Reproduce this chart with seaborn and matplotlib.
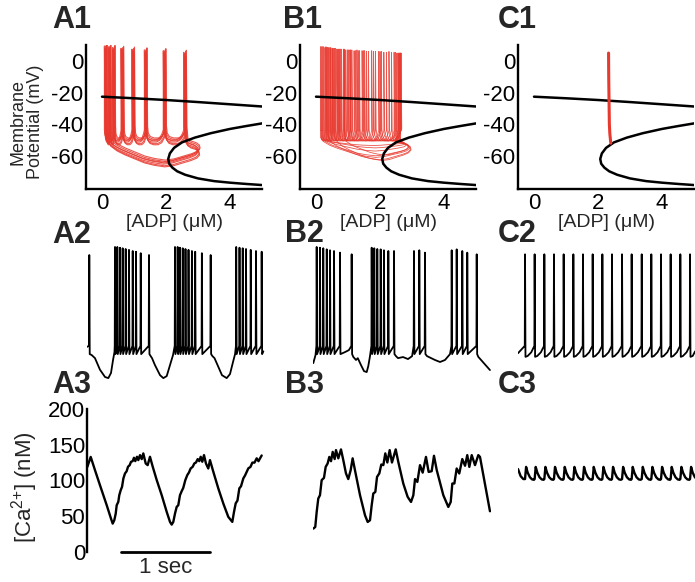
import matplotlib
matplotlib.use("Agg")
import matplotlib.pyplot as plt
import seaborn as sns

sns.set_style("white")
plt.rcParams["font.family"] = ["Liberation Sans", "DejaVu Sans"]
plt.rcParams["mathtext.fontset"] = "custom"
plt.rcParams["mathtext.rm"] = "Liberation Sans"
plt.rcParams["mathtext.it"] = "Liberation Sans:italic"

RED = "#e8392f"
W, H = 695, 582

# ---- bifurcation diagram (ADP in uM, V in mV) ----
upper_adp = [0, 1, 2, 3, 4, 5]
upper_v = [-22.6, -23.6, -24.7, -26.0, -27.4, -28.8]
fold_adp = [5.0, 4.5, 4.0, 3.4, 2.9, 2.5, 2.25, 2.12, 2.07, 2.1, 2.2, 2.35, 2.6, 3.0, 3.5, 4.0, 4.5, 5.0]
fold_v = [-39.5, -41.2, -43, -45.7, -48.5, -51.5, -55, -58.5, -62, -65, -67.5, -69.8, -72, -74.3, -76, -77, -77.8, -78.5]

# shape of the v-trajectory between two spikes and of the slow return loop
gap_frac = [0.04, 0.15, 0.35, 0.6, 0.8, 0.93]
gap_v = [-47.5, -49.6, -50.5, -50.5, -49.2, -46.5]
loop_adp = [2.64, 2.75, 2.9, 3.0, 3.02, 2.93, 2.75, 2.5, 2.2, 1.93, 1.6, 1.3, 1.0, 0.7, 0.45, 0.25, 0.14]
loop_v = [-51, -52.5, -53.5, -55, -57, -59, -60.5, -62, -63.8, -64.5, -63.5, -62, -59.5, -57, -54.5, -51.5, -48]

# A1: bursting trajectory, several overlapping cycles
a1_spikes = [0.11, 0.23, 0.36, 0.63, 0.97, 1.36, 1.95, 2.59]
a1_peaks = [9, 8.5, 8, 7.5, 7, 6.5, 6, 5]
a1_shift_adp = [0.0, 0.025, -0.02, 0.045, 0.012, -0.035, 0.03]
a1_shift_v = [0.0, 1.0, -0.8, 1.8, -1.8, 0.5, -2.5]

# B1: irregular bursting
b1_bursts = [
    [0.14, 0.28, 0.45, 0.68, 0.98, 1.36, 1.86, 2.52],
    [0.20, 0.36, 0.55, 0.80, 1.12, 1.52, 2.04, 2.62],
    [0.38, 0.50, 0.65, 0.88, 1.19, 1.58, 2.12, 2.66],
    [0.24, 0.41, 0.60, 0.86, 1.28, 1.74, 2.28, 2.56],
    [0.58, 0.73, 0.93, 1.24, 1.64, 2.20, 2.64],
    [0.31, 0.46, 0.71, 1.06, 1.44, 1.96, 2.44, 2.60],
    [0.88, 1.02, 1.32, 1.80, 2.36, 2.58],
    [0.17, 0.33, 0.52, 0.76, 1.08, 1.48, 2.00, 2.48, 2.64],
]
b1_peaks = [
    [9, 8.5, 8, 7.5, 7, 6.5, 6, 5],
    [9, 8.5, 8, 7.5, 7, 6.5, 6, 5],
    [8.5, 8, 7.5, 7, 6.5, 6, 5.5, 5],
    [9, 8.5, 8, 7.5, 7, 6.5, 6, 5],
    [8, 7.5, 7, 6.5, 6, 5.5, 5],
    [9, 8.5, 7.5, 7, 6.5, 6, 5.5, 5],
    [7.5, 7, 6.5, 6, 5.5, 5],
    [9, 8.5, 8, 7.5, 7, 6.5, 6, 5.5, 5],
]
b1_loop_right = [2.88, 2.95, 2.82, 2.97, 2.78, 2.9, 2.74, 2.92]
b1_loop_low = [-60, -62.5, -57, -63, -55, -59.5, -53.5, -61]

# C1: tonic spiking
c1_adp = [2.33, 2.335, 2.345, 2.355, 2.37, 2.39, 2.40]
c1_v = [5, -10, -25, -40, -46, -50, -52]

# ---- voltage traces (t in s, V in mV) ----
a2_spikes = [0.029,
             0.318, 0.344, 0.374, 0.404, 0.438, 0.475, 0.517, 0.554, 0.607, 0.700,
             0.992, 1.022, 1.048, 1.079, 1.110, 1.144, 1.182, 1.219, 1.294, 1.393,
             1.680, 1.717, 1.753, 1.790, 1.843, 1.902, 1.966]
a2_peaks = [3.6,
            8, 8, 7.6, 7.3, 6.9, 6.4, 5.8, 5.4, 4.6, 3.6,
            8, 8, 7.6, 7.3, 6.9, 6.4, 5.8, 5.4, 4.6, 3.6,
            8, 7.6, 7.3, 6.9, 6.4, 5.8, 5.4]
a2_slow_t = [0.0, 0.056, 0.093, 0.149, 0.206, 0.243, 0.273, 0.296, 0.312,
             0.719, 0.734, 0.767, 0.824, 0.861, 0.899, 0.936, 0.970,
             1.413, 1.436, 1.475, 1.520, 1.573, 1.610, 1.644, 1.667, 1.985]
a2_slow_v = [-46.6, -51, -52.7, -59, -63, -63.6, -60.8, -53.7, -49.4,
             -51.6, -52.7, -56.5, -62, -63.6, -62.5, -56.5, -51,
             -51.6, -52.7, -57, -62, -63.6, -61.4, -54.8, -50.5, -49]

b2_spikes = [0.038, 0.075, 0.112, 0.151, 0.188, 0.233, 0.300, 0.431,
             0.656, 0.685, 0.719, 0.757, 0.794, 0.843, 0.907,
             1.131, 1.191, 1.255,
             1.555, 1.611, 1.674, 1.730, 1.836]
b2_peaks = [8, 7.6, 7.3, 6.7, 6.2, 5.8, 4.9, 4,
            7.6, 7.3, 6.9, 6.7, 6.2, 5.8, 5.8,
            5.8, 6.2, 4.9,
            6.2, 6.7, 5.8, 4.9, 4]
b2_slow_t = [0.0, 0.025, 0.356, 0.40, 0.449, 0.48, 0.50, 0.536, 0.57, 0.60, 0.618, 0.637,
             0.929, 0.952, 1.008, 1.064, 1.11, 1.278, 1.367, 1.424, 1.48, 1.536, 1.854, 1.985]
b2_slow_v = [-55.4, -51, -49.4, -48.3, -52, -53.7, -52.7, -56.5, -59.8, -60.3, -57, -51.6,
             -51.6, -52.7, -52.1, -53.2, -51.6, -51.6, -53.7, -54.8, -53.7, -50.5, -52, -59.2]

c2_spikes = [0.079, 0.187, 0.296, 0.404, 0.513, 0.622, 0.730, 0.839, 0.948,
             1.056, 1.169, 1.277, 1.390, 1.498, 1.607, 1.715, 1.824, 1.933]
c2_peaks = [4, 4, 4, 4, 4, 4, 4, 4, 4, 4, 4, 4, 4, 4, 4, 4, 4, 4]
c2_slow_t = [0.0, 1.99]
c2_slow_v = [-50, -49]

# ---- calcium traces (t in s, Ca in nM) ----
a3_t = [0.007, 0.045, 0.093, 0.149, 0.225, 0.273, 0.292, 0.31, 0.326, 0.337, 0.355, 0.366,
        0.382, 0.397, 0.412, 0.43, 0.449, 0.464, 0.483, 0.498, 0.517, 0.531, 0.546, 0.565,
        0.58, 0.599, 0.618, 0.636, 0.663, 0.685, 0.711, 0.742, 0.787, 0.843, 0.899, 0.936,
        0.955, 0.973, 0.992, 1.011, 1.029, 1.048, 1.067, 1.085, 1.108, 1.13, 1.149, 1.168,
        1.191, 1.209, 1.228, 1.247, 1.265, 1.281, 1.299, 1.318, 1.34, 1.366, 1.385, 1.423,
        1.479, 1.535, 1.591, 1.636, 1.655, 1.674, 1.694, 1.715, 1.734, 1.76, 1.779, 1.816,
        1.84, 1.861, 1.885, 1.91, 1.93, 1.966]
a3_ca = [119, 133, 114.5, 93.5, 65.4, 46.7, 39.7, 44.4, 53.7, 65.4, 70.1, 79.4,
         86.4, 91.1, 102.8, 109.8, 113, 119.2, 121.5, 126.2, 127.1, 131.8, 127.1, 133.2,
         128.5, 135.5, 129.9, 137.9, 123.8, 121.5, 133.2, 119.2, 100.5, 79.4, 56.1, 42.1,
         38.3, 42.1, 53.7, 63.1, 65.4, 79.4, 85, 89.7, 100.5, 107.5, 111.2, 116.8,
         119.2, 123.8, 125.2, 129.9, 127.1, 133.2, 126.2, 135.5, 123.8, 116.8, 128.5, 112.1,
         88.8, 67.8, 49.1, 42.1, 56, 68, 72, 89, 92, 103, 107, 117,
         119, 125, 125, 131, 127, 135]

b3_t = [0.0, 0.022, 0.038, 0.056, 0.075, 0.094, 0.12, 0.139, 0.161, 0.18, 0.199, 0.218,
        0.24, 0.255, 0.281, 0.311, 0.337, 0.367, 0.393, 0.42, 0.442, 0.468, 0.525, 0.581,
        0.611, 0.637, 0.656, 0.674, 0.697, 0.716, 0.742, 0.764, 0.787, 0.809, 0.832, 0.858,
        0.884, 0.926, 0.955, 1.011, 1.06, 1.098, 1.124, 1.143, 1.169, 1.199, 1.229, 1.266,
        1.296, 1.33, 1.356, 1.387, 1.461, 1.517, 1.544, 1.562, 1.585, 1.611, 1.64, 1.674,
        1.705, 1.73, 1.753, 1.78, 1.817, 1.854, 1.873, 1.985]
b3_ca = [32.7, 35, 56, 74.8, 79.4, 100.5, 103.7, 119, 123.8, 133, 127, 140,
         130, 142.5, 131, 143.5, 128.5, 110, 102, 114.5, 131, 114.5, 79.4, 51.4,
         42, 44.4, 65.4, 81.8, 84, 105, 110, 122.4, 121.5, 137.9, 125.2, 142.5,
         125.2, 143.5, 126, 95.8, 77.1, 70, 79.4, 102, 98, 121.5, 111, 133,
         112, 113, 134.6, 114.5, 79.4, 63, 70, 95.8, 95.8, 116.8, 109.8, 130,
         120.6, 135.5, 119, 135.5, 121.5, 135.5, 133, 57]

# one calcium cycle per C2 spike
c3_dt = [0.0, 0.012, 0.03, 0.055, 0.08, 0.1]
c3_ca = [102, 119, 111, 104.5, 101.5, 101]
c3_start_t, c3_start_ca = [0.0, 0.03, 0.06], [116, 106, 102]
c3_end_t, c3_end_ca = [1.99], [106]


def rect(left, top, right, bottom):
    return [left / W, 1 - bottom / H, (right - left) / W, (bottom - top) / H]


def burst_path(spk, pk):
    xs, vs = [], []
    for i in range(len(spk)):
        s = spk[i]
        xs += [s, s, s + 0.02]
        vs += [-44.0, pk[i], -43.0]
        if i + 1 < len(spk):
            w = spk[i + 1] - s - 0.02
            for f, v in zip(gap_frac, gap_v):
                xs.append(s + 0.02 + f * w)
                vs.append(v)
    return xs, vs


def v_trace(spikes, peaks, slow_t, slow_v, ahp_dt=(0.005,), ahp_v=(-50.5,)):
    pts = list(zip(slow_t, slow_v))
    for s, p in zip(spikes, peaks):
        pts.append((s - 0.003, -46.0))
        pts.append((s, p))
        for dt, v in zip(ahp_dt, ahp_v):
            pts.append((s + dt, v))
    pts.sort()
    return [p[0] for p in pts], [p[1] for p in pts]


def line(ax, x, y, color="black", lw=1.6, alpha=1.0, z=2, clip=True):
    sns.lineplot(x=x, y=y, sort=False, estimator=None, color=color, lw=lw,
                 alpha=alpha, ax=ax, zorder=z, clip_on=clip)


def style_bif(ax):
    ax.set_xlim(-0.5, 5.0)
    ax.set_ylim(-81, 10.1)
    ax.set_xticks([0, 2, 4])
    ax.set_yticks([0, -20, -40, -60])
    ax.set_yticklabels(["0", "-20", "-40", "-60"])
    for s in ["top", "right"]:
        ax.spines[s].set_visible(False)
    for s in ["left", "bottom"]:
        ax.spines[s].set_linewidth(1.7)
        ax.spines[s].set_color("black")
    ax.tick_params(direction="in", length=10, width=1.7, labelsize=16, colors="black")
    ax.tick_params(axis="x", pad=3)
    ax.tick_params(axis="y", pad=2)
    ax.set_xlabel("[ADP] (μM)", fontsize=14, labelpad=0)
    ax.set_ylabel("")
    ax.patch.set_alpha(0)


def bare(ax):
    ax.axis("off")
    ax.patch.set_alpha(0)


fig = plt.figure(figsize=(W / 100, H / 100), dpi=100)

# ---------- row 1 ----------
ax_a1 = fig.add_axes(rect(86, 45, 262, 189))
ax_b1 = fig.add_axes(rect(300, 45, 476, 189))
ax_c1 = fig.add_axes(rect(518, 45, 694, 189))

for sa, sv in zip(a1_shift_adp, a1_shift_v):
    bx, bv = burst_path(a1_spikes, a1_peaks)
    xs = [x + sa for x in bx + loop_adp + [a1_spikes[0]]]
    vs = [v + sv for v in bv + loop_v + [-44.0]]
    line(ax_a1, xs, vs, color=RED, lw=0.8, alpha=0.85, z=2)

n = len(b1_bursts)
for i in range(n):
    bx, bv = burst_path(b1_bursts[i], b1_peaks[i])
    nxt = b1_bursts[(i + 1) % n][0]
    xr, vb = b1_loop_right[i], b1_loop_low[i]
    lx = [nxt + (a - 0.14) * (xr - nxt) / (3.02 - 0.14) for a in loop_adp]
    lv = [-50 + (v + 50) * (vb + 50) / (-14.5) for v in loop_v]
    line(ax_b1, bx + lx + [nxt], bv + lv + [-44.0], color=RED, lw=0.6, alpha=0.85, z=2)

line(ax_c1, c1_adp, c1_v, color=RED, lw=2.2, z=4)

for ax in (ax_a1, ax_b1, ax_c1):
    line(ax, upper_adp, upper_v, lw=1.8, z=3)
    line(ax, fold_adp, fold_v, lw=1.8, z=3)
    style_bif(ax)

fig.text(27 / W, 1 - 122 / H, "Membrane\nPotential (mV)", rotation=90, ha="center",
         va="center", fontsize=13, multialignment="center", linespacing=1.0)

# ---------- row 2 ----------
cols = [86.7, 313.3, 518]
ax_a2 = fig.add_axes(rect(cols[0], 238, cols[0] + 178, 388))
ax_b2 = fig.add_axes(rect(cols[1], 238, cols[1] + 178, 388))
ax_c2 = fig.add_axes(rect(cols[2], 238, cols[2] + 178, 388))

t, v = v_trace(a2_spikes, a2_peaks, a2_slow_t, a2_slow_v)
line(ax_a2, t, v, lw=1.3)
t, v = v_trace(b2_spikes, b2_peaks, b2_slow_t, b2_slow_v)
line(ax_b2, t, v, lw=1.3)
t, v = v_trace(c2_spikes, c2_peaks, c2_slow_t, c2_slow_v,
               ahp_dt=(0.005, 0.03, 0.07), ahp_v=(-52, -51.5, -49.5))
line(ax_c2, t, v, lw=1.3)
for ax in (ax_a2, ax_b2, ax_c2):
    ax.set_xlim(0, 2)
    ax.set_ylim(-69, 12.9)
    bare(ax)

# ---------- row 3 ----------
ax_a3 = fig.add_axes(rect(cols[0], 405, cols[0] + 178, 556))
ax_b3 = fig.add_axes(rect(cols[1], 405, cols[1] + 178, 556))
ax_c3 = fig.add_axes(rect(cols[2], 405, cols[2] + 178, 556))

line(ax_a3, a3_t, a3_ca, lw=1.7)
line(ax_b3, b3_t, b3_ca, lw=1.7)
c3_t, c3_v = list(c3_start_t), list(c3_start_ca)
for s in c2_spikes:
    c3_t += [s + d for d in c3_dt]
    c3_v += c3_ca
c3_t += c3_end_t
c3_v += c3_end_ca
line(ax_c3, c3_t, c3_v, lw=1.7)

for ax in (ax_a3, ax_b3, ax_c3):
    ax.set_xlim(0, 2)
    ax.set_ylim(-5.6, 205.6)
bare(ax_b3)
bare(ax_c3)

ax_a3.patch.set_alpha(0)
for s in ["top", "right", "bottom"]:
    ax_a3.spines[s].set_visible(False)
ax_a3.spines["left"].set_linewidth(1.7)
ax_a3.spines["left"].set_color("black")
ax_a3.spines["left"].set_bounds(0, 200)
ax_a3.set_xticks([])
ax_a3.set_yticks([0, 50, 100, 150, 200])
ax_a3.tick_params(axis="y", direction="in", length=10, width=1.7, labelsize=16, pad=1,
                  colors="black")
ax_a3.set_xlabel("")
ax_a3.set_ylabel("")
fig.text(25 / W, 1 - 487 / H, r"[Ca$^{2{+}}$] (nM)", rotation=90, ha="center",
         va="center", fontsize=16)

# 1 sec scale bar
line(ax_a3, [0.385, 1.385], [0, 0], lw=2.0, clip=False)
ax_a3.text(0.885, -22, "1 sec", ha="center", va="center", fontsize=16)

# ---------- panel letters ----------
letters = [("A1", 52, 28), ("B1", 283, 28), ("C1", 498, 28),
           ("A2", 52, 243), ("B2", 285, 242), ("C2", 498, 242),
           ("A3", 52, 393), ("B3", 285, 393), ("C3", 498, 393)]
for txt, x, y in letters:
    fig.text(x / W, 1 - y / H, txt, fontsize=22, fontweight="bold", va="baseline")

fig.savefig("out.png", dpi=100)
